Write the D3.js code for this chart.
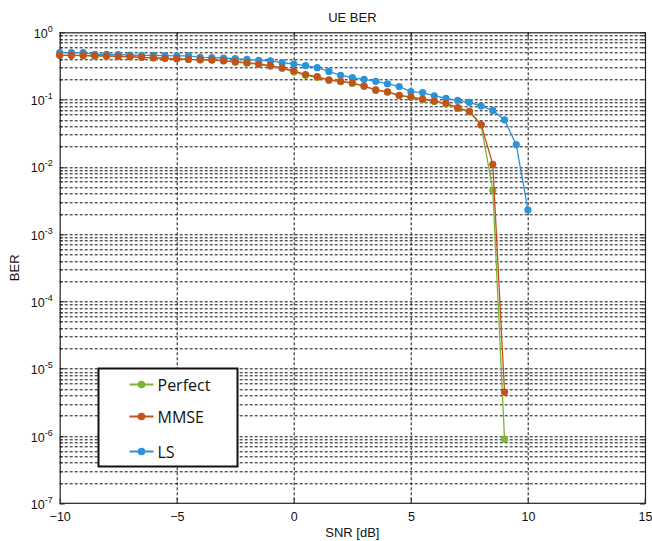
<!DOCTYPE html>
<html>
<head>
<meta charset="utf-8">
<script src="https://cdn.jsdelivr.net/npm/d3@7"></script>
<style>
  body { margin: 0; background: #fff; }
  text { font-family: "Liberation Sans", Arial, sans-serif; fill: #111; }
</style>
</head>
<body>
<div id="plot"></div>
<script>
var margin = {top: 32.3, right: 7, bottom: 37.7, left: 59.7};

var width = 652 - margin.left - margin.right,
    height = 541 - margin.top - margin.bottom;

// SNR points in dB
var snr = [-10, -9.5, -9, -8.5, -8, -7.5, -7, -6.5, -6, -5.5, -5, -4.5, -4, -3.5, -3, -2.5, -2, -1.5, -1, -0.5,
           0, 0.5, 1, 1.5, 2, 2.5, 3, 3.5, 4, 4.5, 5, 5.5, 6, 6.5, 7, 7.5, 8, 8.5, 9, 9.5, 10];

// BER per channel estimator
var berPerfect = [0.455, 0.455, 0.45, 0.44, 0.445, 0.44, 0.43, 0.425, 0.415, 0.41, 0.405, 0.397, 0.39, 0.385,
                  0.375, 0.36, 0.348, 0.333, 0.312, 0.29, 0.258, 0.229, 0.214, 0.194, 0.185, 0.175, 0.158,
                  0.138, 0.129, 0.115, 0.108, 0.1, 0.094, 0.086, 0.074, 0.066, 0.042, 0.00449, 9e-7];
var berMMSE = [0.455, 0.455, 0.455, 0.45, 0.445, 0.44, 0.435, 0.425, 0.42, 0.41, 0.406, 0.397, 0.392, 0.388,
               0.379, 0.366, 0.354, 0.338, 0.319, 0.295, 0.266, 0.235, 0.219, 0.196, 0.187, 0.177, 0.159,
               0.139, 0.13, 0.116, 0.109, 0.102, 0.0953, 0.088, 0.0759, 0.067, 0.0424, 0.0109, 4.5e-6];
var berLS = [0.5, 0.5, 0.498, 0.471, 0.47, 0.465, 0.46, 0.455, 0.455, 0.45, 0.445, 0.445, 0.425, 0.42,
             0.415, 0.406, 0.397, 0.383, 0.375, 0.354, 0.338, 0.319, 0.298, 0.262, 0.23, 0.212, 0.2,
             0.187, 0.172, 0.156, 0.131, 0.127, 0.114, 0.104, 0.0975, 0.091, 0.08, 0.069, 0.0498,
             0.0214, 0.00229];

var seriesNames = ['Perfect', 'MMSE', 'LS'];
var seriesColors = ['#7cb534', '#c4521c', '#2b93d9'];
var seriesValues = [berPerfect, berMMSE, berLS];

var xTicks = [-10, -5, 0, 5, 10, 15];
var yExps = [0, -1, -2, -3, -4, -5, -6, -7];

// scales
var xScale = d3.scaleLinear()
    .domain([-10, 15])
    .range([0, width]);

var yScale = d3.scaleLog()
    .domain([1e-7, 1])
    .range([height, 0]);

var svg = d3.select('#plot').append('svg')
    .attr('width', 652)
    .attr('height', 541);

var g = svg.append('g')
    .attr('transform', 'translate(' + margin.left + ',' + margin.top + ')');

// minor + major horizontal grid (every 1..9 x 10^k)
var yGridVals = [];
yExps.forEach(function(e) {
  if (e === -7) { yGridVals.push(1e-7); return; }
  for (var m = 1; m < 10; m++) yGridVals.push(m * Math.pow(10, e - 1));
});
yGridVals.push(1);

var grid = g.append('g').attr('class', 'grid')
    .attr('stroke', '#111')
    .attr('stroke-width', 1)
    .attr('stroke-dasharray', '3,2');

grid.selectAll('line.h')
    .data(yGridVals.filter(function(v) { return v > 1e-7 && v < 1; }))
  .enter().append('line')
    .attr('class', 'h')
    .attr('x1', 0).attr('x2', width)
    .attr('y1', function(d) { return Math.round(yScale(d)) + 0.5; })
    .attr('y2', function(d) { return Math.round(yScale(d)) + 0.5; });

grid.selectAll('line.v')
    .data(xTicks.slice(1, -1))
  .enter().append('line')
    .attr('class', 'v')
    .attr('y1', 0).attr('y2', height)
    .attr('x1', function(d) { return Math.round(xScale(d)) + 0.5; })
    .attr('x2', function(d) { return Math.round(xScale(d)) + 0.5; });

// inner ticks on all four sides
var ticks = g.append('g').attr('stroke', '#222').attr('stroke-width', 1);
yGridVals.forEach(function(v) {
  var y = Math.round(yScale(v)) + 0.5;
  var len = (Math.log10(v) % 1 === 0) ? 5 : 3;
  ticks.append('line').attr('x1', 0).attr('x2', len).attr('y1', y).attr('y2', y);
  ticks.append('line').attr('x1', width).attr('x2', width - len).attr('y1', y).attr('y2', y);
});
xTicks.forEach(function(t) {
  var x = Math.round(xScale(t)) + 0.5;
  ticks.append('line').attr('x1', x).attr('x2', x).attr('y1', height).attr('y2', height - 5);
  ticks.append('line').attr('x1', x).attr('x2', x).attr('y1', 0).attr('y2', 5);
});

// axes (labels only, ticks drawn above)
var xAxis = d3.axisBottom(xScale)
    .tickValues(xTicks)
    .tickSize(0)
    .tickPadding(9);

var yAxis = d3.axisLeft(yScale)
    .tickValues(yExps.map(function(e) { return Math.pow(10, e); }))
    .tickSize(0)
    .tickFormat('');

var gx = g.append('g')
    .attr('transform', 'translate(0,' + height + ')')
    .call(xAxis);
gx.select('.domain').remove();
gx.selectAll('text')
    .style('font-size', '12.5px')
    .style('font-family', '"Liberation Sans", Arial, sans-serif')
    .attr('fill', '#111');

var gy = g.append('g').call(yAxis);
gy.select('.domain').remove();
gy.selectAll('.tick text').remove();
gy.selectAll('.tick').append('text')
    .attr('x', -7)
    .attr('y', 5)
    .attr('text-anchor', 'end')
    .style('font-size', '12.5px')
    .style('font-family', '"Liberation Sans", Arial, sans-serif')
    .each(function(d) {
      var t = d3.select(this);
      t.append('tspan').text('10');
      t.append('tspan')
        .attr('dy', -6)
        .style('font-size', '9px')
        .text(Math.round(Math.log10(d)));
    });

// frame
g.append('rect')
    .attr('x', 0.5).attr('y', 0.5)
    .attr('width', width).attr('height', height - 0.5)
    .attr('fill', 'none')
    .attr('stroke', '#222')
    .attr('stroke-width', 1.2);

// curves
var line = d3.line()
    .x(function(d) { return xScale(d[0]); })
    .y(function(d) { return yScale(d[1]); });

var curves = g.append('g');
[0, 2, 1].forEach(function(i) {
  var pts = seriesValues[i].map(function(v, k) { return [snr[k], v]; });
  var s = curves.append('g');
  s.append('path')
      .datum(pts)
      .attr('fill', 'none')
      .attr('stroke', seriesColors[i])
      .attr('stroke-width', 1.3)
      .attr('d', line);
  s.selectAll('circle')
      .data(pts)
    .enter().append('circle')
      .attr('cx', function(d) { return xScale(d[0]); })
      .attr('cy', function(d) { return yScale(d[1]); })
      .attr('r', 3.6)
      .attr('fill', seriesColors[i]);
});

// legend
var legend = g.append('g')
    .attr('transform', 'translate(' + (98.5 - margin.left) + ',' + (368.5 - margin.top) + ')');
legend.append('rect')
    .attr('width', 139)
    .attr('height', 98)
    .attr('fill', '#fff')
    .attr('stroke', '#111')
    .attr('stroke-width', 2);

var rowY = [16, 48, 83];
seriesNames.forEach(function(name, i) {
  var row = legend.append('g').attr('transform', 'translate(0,' + rowY[i] + ')');
  row.append('line')
      .attr('x1', 31).attr('x2', 55)
      .attr('stroke', seriesColors[i])
      .attr('stroke-width', 2);
  row.append('circle')
      .attr('cx', 43).attr('r', 3.8)
      .attr('fill', seriesColors[i]);
  row.append('text')
      .attr('x', 59)
      .attr('y', 6)
      .style('font-size', '16px')
      .style('font-family', '"Open Sans", "Liberation Sans", sans-serif')
      .text(name);
});

// titles
svg.append('text')
    .attr('x', margin.left + width / 2)
    .attr('y', 22)
    .attr('text-anchor', 'middle')
    .style('font-size', '13px')
    .text('UE BER');

svg.append('text')
    .attr('x', margin.left + width / 2)
    .attr('y', 537)
    .attr('text-anchor', 'middle')
    .style('font-size', '13px')
    .text('SNR [dB]');

svg.append('text')
    .attr('transform', 'translate(19,' + (margin.top + height / 2) + ') rotate(-90)')
    .attr('text-anchor', 'middle')
    .style('font-size', '13px')
    .text('BER');
</script>
</body>
</html>
